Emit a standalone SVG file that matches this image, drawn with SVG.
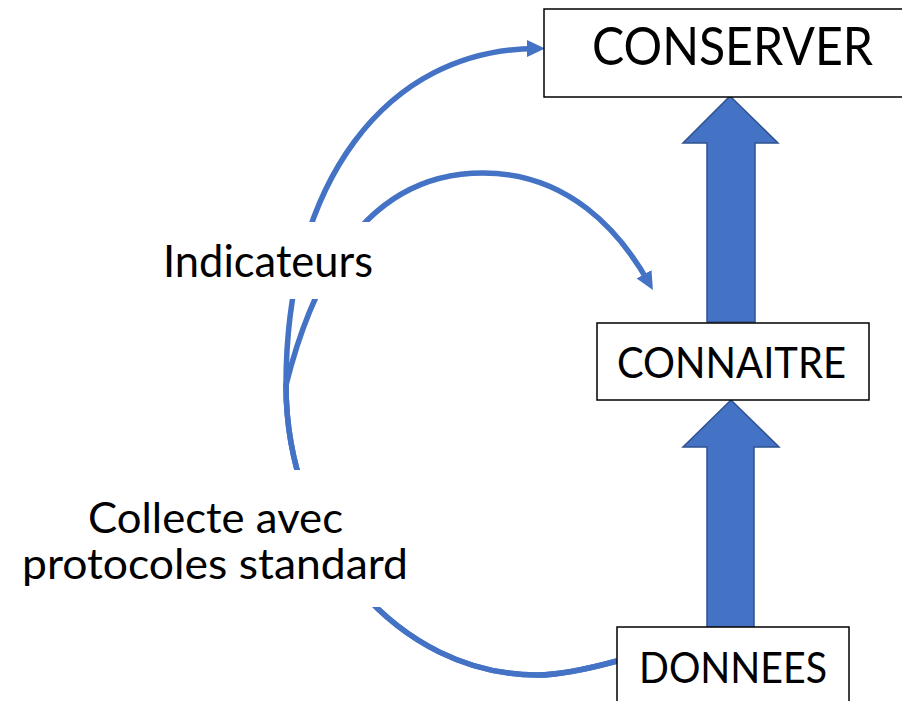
<svg xmlns="http://www.w3.org/2000/svg" width="902" height="701" viewBox="0 0 902 701">
  <style>
    .box { fill: #ffffff; stroke: #000000; stroke-width: 1.5; }
    .big { fill: #4472C4; stroke: #2F528F; stroke-width: 1.5; stroke-linejoin: miter; }
    .conn { fill: none; stroke: #4472C4; stroke-width: 5.5; }
    .lbl { font-family: Lato, "Open Sans", "Liberation Sans", sans-serif; fill: #000000; }
    .bg { fill: #ffffff; stroke: none; }
  </style>
  <defs>
    <marker id="ah" markerUnits="userSpaceOnUse" viewBox="0 0 18 17" markerWidth="18" markerHeight="17" refX="10" refY="8.5" orient="auto">
      <path d="M0,0 L18,8.5 L0,17 z" fill="#4472C4"/>
    </marker>
  </defs>

  <g id="connectors">
    <path id="c-donnees-conserver" class="conn" marker-end="url(#ah)"
      d="M617,661 C595,667 560,675 537,675 C399,675 286,544.5 286,385 C286,183 386,48.5 537,48.5"/>
    <path id="c-donnees-connaitre" class="conn" marker-end="url(#ah)"
      d="M617,661 C595,667 560,675 537,675 C399,675 286,544.5 286,385 C316,265 373,173 483,173 C568,173 619.6,230.8 649,283"/>
  </g>

  <g id="label-indicateurs">
    <rect class="bg" x="150" y="222" width="238" height="77"/>
    <text class="lbl" x="163" y="277" font-size="44" textLength="210" lengthAdjust="spacingAndGlyphs">Indicateurs</text>
  </g>

  <g id="label-collecte">
    <rect class="bg" x="15" y="470" width="400" height="137"/>
    <text class="lbl" font-size="43">
      <tspan x="88" y="533" textLength="255" lengthAdjust="spacingAndGlyphs">Collecte avec</tspan>
      <tspan x="22" y="579" textLength="386" lengthAdjust="spacingAndGlyphs">protocoles standard</tspan>
    </text>
  </g>

  <g id="arrow-donnees-connaitre">
    <polygon class="big" points="707,628 707,447 683,447 731,400 779,447 754,447 754,628"/>
  </g>
  <g id="arrow-connaitre-conserver">
    <polygon class="big" points="707,322 707,143 683,143 730,96 778,143 755,143 755,322"/>
  </g>

  <g id="node-conserver">
    <rect class="box" x="544" y="9" width="370" height="88"/>
    <text class="lbl" x="592" y="65" font-size="52" textLength="281" lengthAdjust="spacingAndGlyphs">CONSERVER</text>
  </g>
  <g id="node-connaitre">
    <rect class="box" x="597" y="323" width="272" height="77"/>
    <text class="lbl" x="617" y="378" font-size="43" textLength="229" lengthAdjust="spacingAndGlyphs">CONNAITRE</text>
  </g>
  <g id="node-donnees">
    <rect class="box" x="617" y="627" width="232" height="90"/>
    <text class="lbl" x="639" y="683" font-size="43" textLength="188" lengthAdjust="spacingAndGlyphs">DONNEES</text>
  </g>
</svg>
